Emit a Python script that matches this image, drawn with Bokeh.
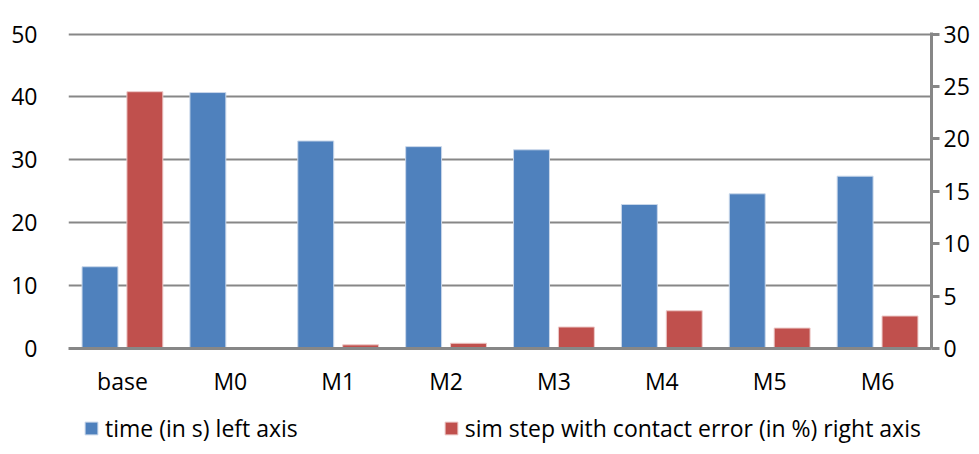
from bokeh.plotting import figure
from bokeh.models import (Range1d, LinearAxis, FixedTicker, Legend,
                          LegendItem, ColumnDataSource, FactorRange)
from bokeh.layouts import column
from bokeh.transform import dodge
from bokeh.embed import file_html
from bokeh.resources import INLINE

categories = ["base", "M0", "M1", "M2", "M3", "M4", "M5", "M6"]
time_s = [13.0, 40.7, 33.0, 32.1, 31.6, 22.9, 24.6, 27.4]
contact_err_pct = [24.5, 0.0, 0.35, 0.5, 2.05, 3.6, 1.95, 3.1]
left_ticks = [0, 10, 20, 30, 40, 50]
right_ticks = [0, 5, 10, 15, 20, 25, 30]
series_labels = ["time (in s) left axis",
                 "sim step with contact error (in %) right axis"]

FONT = "Open Sans"
FS = "23px"
GRAY = "#878787"
BLUE = "#4F81BD"
RED = "#C0504D"
BLUE_EDGE = "#c9d7ea"
RED_EDGE = "#ecc9c8"

src = ColumnDataSource(dict(cat=categories, time=time_s, err=contact_err_pct))

p = figure(x_range=FactorRange(*categories), y_range=Range1d(0, 50.25),
           frame_width=863, frame_height=316,
           output_backend="svg", toolbar_location=None,
           min_border_left=68, min_border_right=38, min_border_top=32,
           min_border_bottom=62)
p.extra_y_ranges = {"right": Range1d(0, 30.15)}

r1 = p.vbar(x=dodge("cat", -0.208, range=p.x_range), top="time", width=0.333,
            source=src, fill_color=BLUE, line_color=BLUE_EDGE, line_width=1)
r2 = p.vbar(x=dodge("cat", 0.208, range=p.x_range), top="err", width=0.333,
            source=src, y_range_name="right", fill_color=RED,
            line_color=RED_EDGE, line_width=1)

# left axis
ya = p.yaxis[0]
ya.ticker = FixedTicker(ticks=left_ticks)
ya.axis_line_color = None
ya.major_tick_line_color = None
ya.minor_tick_line_color = None
ya.major_label_standoff = 25
ya.major_label_text_font = FONT
ya.major_label_text_font_size = FS
ya.major_label_text_color = "black"

# bottom axis
xa = p.xaxis[0]
xa.axis_line_color = GRAY
xa.axis_line_width = 3
xa.major_tick_line_color = None
xa.minor_tick_line_color = None
xa.major_label_standoff = 10
xa.major_label_text_font = FONT
xa.major_label_text_font_size = FS
xa.major_label_text_color = "black"

# right axis
ra = LinearAxis(y_range_name="right", ticker=FixedTicker(ticks=right_ticks))
ra.axis_line_color = GRAY
ra.axis_line_width = 3
ra.major_tick_line_color = GRAY
ra.major_tick_line_width = 3
ra.major_tick_out = 8
ra.major_tick_in = 0
ra.minor_tick_line_color = None
ra.major_label_standoff = 4
ra.major_label_text_font = FONT
ra.major_label_text_font_size = FS
ra.major_label_text_color = "black"
p.add_layout(ra, "right")

p.xgrid.visible = False
p.ygrid.grid_line_color = GRAY
p.ygrid.grid_line_width = 2
p.outline_line_color = None

# legend strip below the chart (swatch renderers sit outside its visible range)
pl = figure(frame_width=971, frame_height=36, x_range=Range1d(0, 1),
            y_range=Range1d(0, 1), output_backend="svg", toolbar_location=None,
            min_border=0, outline_line_color=None)
pl.axis.visible = False
pl.grid.visible = False
swatch = ColumnDataSource(dict(x=[5.0], top=[1.0]))
l1 = pl.vbar(x="x", top="top", width=0.1, source=swatch,
             fill_color=BLUE, line_color=BLUE_EDGE)
l2 = pl.vbar(x="x", top="top", width=0.1, source=swatch,
             fill_color=RED, line_color=RED_EDGE)
legend = Legend(items=[
    LegendItem(label=series_labels[0], renderers=[l1]),
    LegendItem(label=series_labels[1], renderers=[l2]),
], orientation="horizontal", location=(83, 2), spacing=145, padding=0,
    margin=0, border_line_color=None, background_fill_alpha=0,
    glyph_width=16, glyph_height=16, label_standoff=6,
    label_text_font=FONT, label_text_font_size=FS, label_text_color="black")
pl.add_layout(legend, "center")

open("out.html", "w").write(file_html(column(p, pl, spacing=0), INLINE))
